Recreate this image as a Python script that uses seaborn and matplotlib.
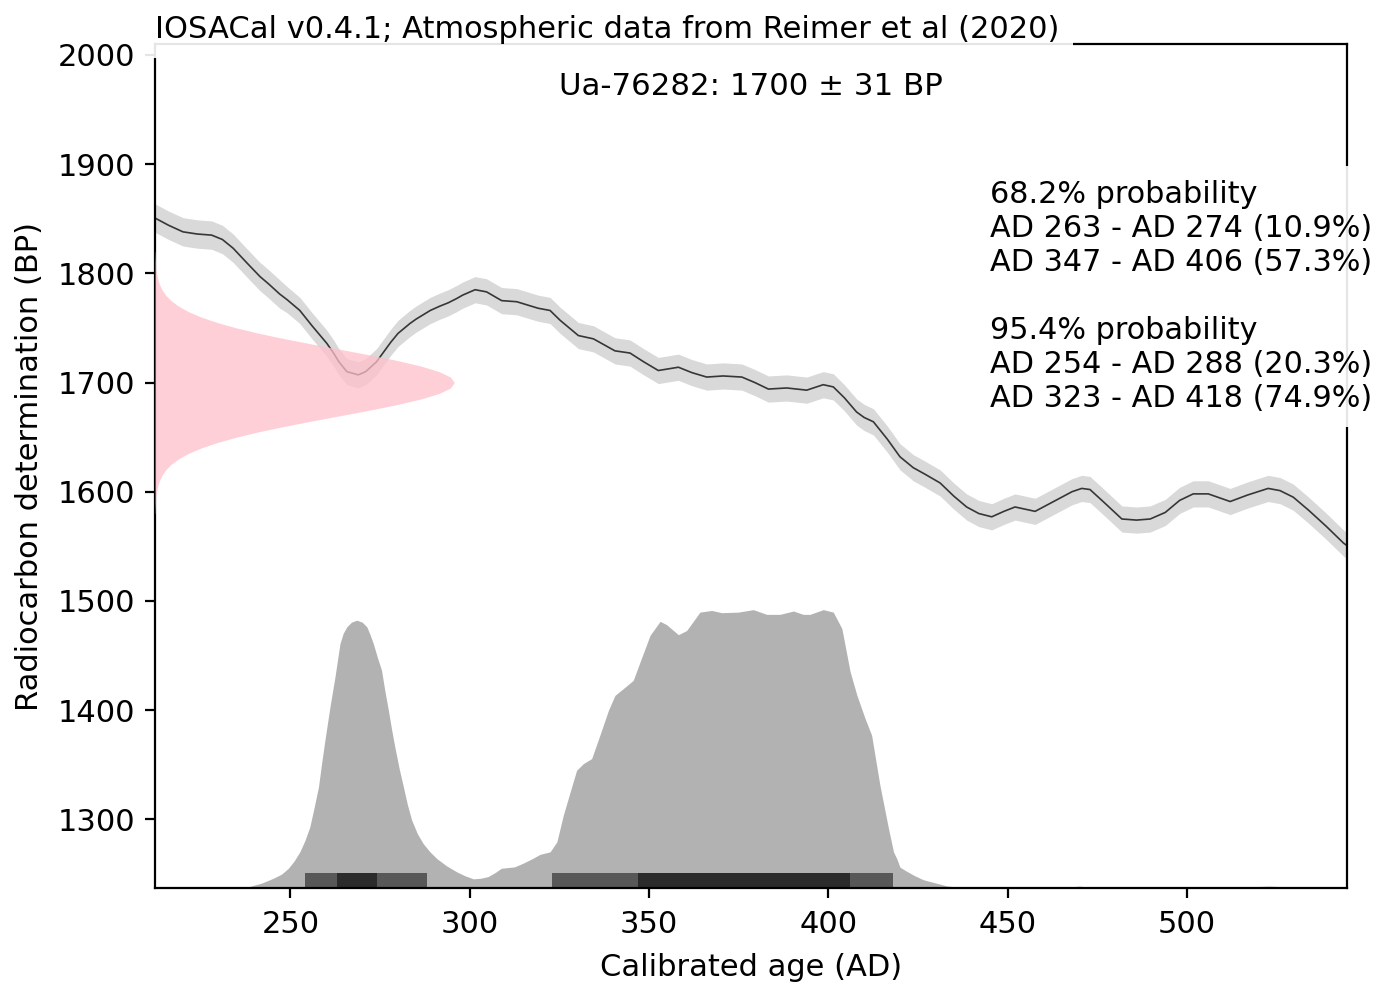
import matplotlib

matplotlib.use("Agg")

import matplotlib.pyplot as plt
import numpy as np
import seaborn as sns


# calibration curve (IntCal20 atmospheric)
CURVE_AD = [
    210, 212, 216, 220, 224, 228, 231, 234, 238, 241.5, 244, 247, 249, 252.6, 256,
    260.1, 262, 263.5, 265.7, 268.9, 271, 274, 276, 278, 280, 283.3, 285, 287,
    289, 291.7, 294, 296.4, 298, 301.5, 304.7, 308.9, 313.1, 319.1, 322.4, 325.2,
    330.3, 334.5, 340.5, 344.7, 348.5, 352.6, 358.2, 362, 366.1, 370.7, 375.9,
    379.5, 383.3, 388.4, 394, 398.6, 401.4, 404.5, 407.9, 410, 412.6, 416.5, 420,
    423.7, 427, 431.2, 435, 438.6, 442, 445.6, 449, 452.1, 457.7, 464, 468,
    470.7, 473, 477, 481.9, 486, 489.8, 494, 498, 501.8, 506, 512.1, 517, 522.7,
    526, 529.7, 534, 539, 543.7, 547,
]
CURVE_BP = [
    1855, 1851, 1844, 1838, 1836, 1835, 1831, 1823, 1809, 1797, 1790, 1781, 1776, 1766, 1752,
    1736, 1727, 1719, 1710, 1707, 1710, 1719, 1728, 1737, 1745, 1754, 1758, 1762,
    1766, 1770, 1773, 1777, 1780, 1785, 1783, 1775, 1774, 1768, 1766, 1757,
    1743, 1740, 1729, 1727, 1719, 1711, 1714, 1709, 1705, 1706, 1705,
    1700, 1694, 1695, 1693, 1698, 1696, 1686, 1673, 1668, 1664, 1648, 1632,
    1622, 1616, 1608, 1596, 1586, 1580, 1577, 1582, 1586, 1582, 1593, 1600,
    1603, 1602, 1590, 1575, 1574, 1575, 1581, 1592, 1598, 1598, 1591, 1597, 1603,
    1601, 1595, 1583, 1568, 1553, 1545,
]
CURVE_SIGMA = [13] * 12 + [12] * (len(CURVE_AD) - 12)

# radiocarbon determination Ua-76282: 1700 +/- 31 BP (relative density)
DET_BP = [
    1580, 1585, 1590, 1595, 1600, 1605, 1610, 1615, 1620, 1625, 1630, 1635, 1640,
    1645, 1650, 1655, 1660, 1665, 1670, 1675, 1680, 1685, 1690, 1695, 1700,
    1705, 1710, 1715, 1720, 1725, 1730, 1735, 1740, 1745, 1750, 1755, 1760,
    1765, 1770, 1775, 1780, 1785, 1790, 1795, 1800, 1805, 1810, 1815, 1820,
]
DET_DENS = [
    0.0006, 0.0011, 0.0018, 0.0032, 0.0055, 0.0091, 0.0148, 0.0233, 0.0358, 0.0536, 0.0782, 0.111, 0.1537,
    0.2072, 0.2723, 0.3486, 0.4351, 0.5288, 0.6262, 0.7225, 0.8122, 0.8895, 0.9493, 0.987, 1.0,
    0.987, 0.9493, 0.8895, 0.8122, 0.7225, 0.6262, 0.5288, 0.4351, 0.3486, 0.2723, 0.2072, 0.1537,
    0.111, 0.0782, 0.0536, 0.0358, 0.0233, 0.0148, 0.0091, 0.0055, 0.0032, 0.0018, 0.0011, 0.0006,
]

# calibrated age distribution (relative probability)
CAL_AD = [
    212, 232, 236, 238.7, 242, 245.2, 247.5, 249.4, 251, 252.6, 254, 255.4, 256.6, 257.8,
    258.7, 259.6, 261, 262.4, 263.8, 264.7, 265.7, 267, 268.5, 270, 271.3, 272.2,
    273.1, 274.2, 275.4, 276.3, 277.3, 278.2, 279.1, 280.3, 281.5, 282.6, 283.8,
    285.4, 287, 288.9, 290.8, 293.5, 296.4, 298.5, 301, 303, 305.1, 307, 308.8,
    312.5, 315, 317.5, 319.6, 322.4, 324.3, 326.1, 328, 329.8, 331.7, 334, 336.3,
    338.7, 340.5, 342.8, 345.6, 347.5, 350.3, 353.1, 354.9, 358.2, 360.5, 364.2,
    367.5, 370.3, 374.9, 379.1, 382.8, 386.5, 390.3, 393, 394.9, 398.6, 401.4,
    403.8, 406.1, 408, 410.3, 412.1, 414.4, 416.8, 418.2, 419.1, 420, 421.9, 424,
    426.5, 430, 433, 436, 440, 465, 470, 475, 498, 503, 510, 516, 523, 530, 536, 545,
]
CAL_DENS = [
    0.0, 0.0, 0.003, 0.006, 0.018, 0.035, 0.05, 0.071, 0.097, 0.13, 0.17, 0.22, 0.29, 0.363,
    0.45, 0.531, 0.65, 0.758, 0.878, 0.915, 0.938, 0.955, 0.962, 0.955, 0.938, 0.91,
    0.878, 0.83, 0.782, 0.71, 0.639, 0.57, 0.507, 0.43, 0.363, 0.3, 0.244,
    0.195, 0.16, 0.13, 0.106, 0.08, 0.058, 0.045, 0.033, 0.035, 0.041, 0.055, 0.071,
    0.076, 0.09, 0.106, 0.121, 0.13, 0.166, 0.262, 0.345, 0.423, 0.447, 0.465, 0.549,
    0.639, 0.692, 0.716, 0.746, 0.812, 0.908, 0.958, 0.946, 0.91, 0.925, 0.991,
    0.997, 0.989, 0.991, 1.0, 0.983, 0.983, 0.995, 0.983, 0.983, 1.0, 0.991,
    0.932, 0.777, 0.692, 0.608, 0.549, 0.37, 0.214, 0.13, 0.106, 0.075, 0.06, 0.045,
    0.03, 0.018, 0.008, 0.003, 0.0, 0.0, 0.007, 0.0, 0.0, 0.004, 0.002, 0.004, 0.007, 0.003, 0.0, 0.0,
]

# highest posterior density ranges (AD)
HPD_68 = [(263, 274), (347, 406)]
HPD_95 = [(254, 288), (323, 418)]

LAB_ID = "Ua-76282"
BP_MEAN = 1700
BP_STD = 31
CURVE_TITLE = "Atmospheric data from Reimer et al (2020)"
VERSION = "0.4.1"

PROB_TEXT = "\n".join([
    "68.2% probability",
    "AD 263 - AD 274 (10.9%)",
    "AD 347 - AD 406 (57.3%)",
    "",
    "95.4% probability",
    "AD 254 - AD 288 (20.3%)",
    "AD 323 - AD 418 (74.9%)",
])

X_MIN, X_MAX = 212.2, 544.7
Y_MIN, Y_MAX = 1237, 2010
DENS_SCALE = 255      # height of calibrated density, in BP units
DET_SCALE = 83.5      # width of determination density, in years
BAR_HEIGHT = 14


def main() -> None:
    sns.set_style("ticks", {
        "axes.edgecolor": "black",
        "xtick.color": "black",
        "ytick.color": "black",
        "text.color": "black",
        "axes.labelcolor": "black",
    })
    plt.rcParams["font.family"] = ["DejaVu Sans"]

    fig = plt.figure(figsize=(6.9, 4.915), dpi=200)
    ax = fig.add_axes([0.1123, 0.0966, 0.8638, 0.8586])

    curve_x = np.array(CURVE_AD)
    curve_y = np.array(CURVE_BP)
    sigma = np.array(CURVE_SIGMA)

    ax.fill_between(curve_x, curve_y - sigma, curve_y + sigma,
                    color="black", alpha=0.15, linewidth=0, zorder=1)
    sns.lineplot(x=curve_x, y=curve_y, color="black", alpha=0.75,
                 linewidth=0.6, sort=False, ax=ax, zorder=2)

    # calibrated distribution along the bottom
    cal_x = np.array(CAL_AD)
    cal_y = Y_MIN + np.array(CAL_DENS) * DENS_SCALE
    ax.fill_between(cal_x, Y_MIN, cal_y, color="black", alpha=0.3,
                    linewidth=0, zorder=1)
    for lo, hi in HPD_95:
        ax.fill_between([lo, hi], Y_MIN, Y_MIN + BAR_HEIGHT, color="black",
                        alpha=0.5, linewidth=0, zorder=1.5)
    for lo, hi in HPD_68:
        ax.fill_between([lo, hi], Y_MIN, Y_MIN + BAR_HEIGHT, color="black",
                        alpha=0.5, linewidth=0, zorder=1.6)

    # radiocarbon determination along the y axis
    det_y = np.array(DET_BP)
    ax.fill_betweenx(det_y, X_MIN, X_MIN + np.array(DET_DENS) * DET_SCALE,
                     color="pink", alpha=0.75, linewidth=0, zorder=3)

    ax.set_xlim(X_MIN, X_MAX)
    ax.set_ylim(Y_MIN, Y_MAX)
    ax.set_xticks([250, 300, 350, 400, 450, 500])
    ax.set_yticks([1300, 1400, 1500, 1600, 1700, 1800, 1900, 2000])
    ax.tick_params(labelsize=11, length=3.5, width=0.8)
    ax.tick_params(axis="x", pad=4.5)
    for side in ax.spines.values():
        side.set_linewidth(0.8)
    ax.set_xlabel("Calibrated age (AD)", fontsize=11, labelpad=5)
    ax.set_ylabel("Radiocarbon determination (BP)", fontsize=11, labelpad=5)

    box = dict(facecolor="white", edgecolor="none", alpha=0.9,
               boxstyle="square,pad=0.45")
    ax.text(0.0, 1.0, f"IOSACal v{VERSION}; {CURVE_TITLE}",
            transform=ax.transAxes, ha="left", va="bottom", fontsize=11,
            bbox=box, zorder=10)
    ax.text(0.5, 0.967, f"{LAB_ID}: {BP_MEAN} ± {BP_STD} BP",
            transform=ax.transAxes, ha="center", va="top", fontsize=11.1)
    ax.text(0.7005, 0.839, PROB_TEXT, transform=ax.transAxes,
            ha="left", va="top", fontsize=10.9, linespacing=1.22,
            bbox=box, zorder=10)

    fig.savefig("out.png", dpi=200)
    plt.close(fig)


if __name__ == "__main__":
    main()
